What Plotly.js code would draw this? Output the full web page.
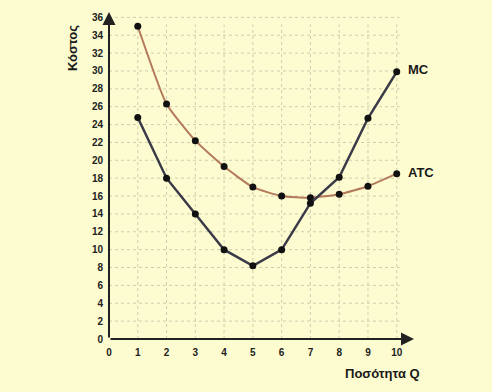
<!DOCTYPE html>
<html><head><meta charset="utf-8">
<script src="https://cdn.plot.ly/plotly-3.0.1.min.js"></script>
<style>html,body{margin:0;padding:0;background:#fdfcd0;}</style>
</head><body><div id="chart" style="width:492px;height:392px;"></div>
<script>
var quantity = [1,2,3,4,5,6,7,8,9,10];
var mc  = [24.8,18,14,10,8.2,10,15.2,18.1,24.7,29.9];
var atc = [35,26.3,22.2,19.3,17,16,15.8,16.2,17.1,18.5];
var xTicks = [0,1,2,3,4,5,6,7,8,9,10];
var yTicks = [0,2,4,6,8,10,12,14,16,18,20,22,24,26,28,30,32,34,36];
var yTitle = 'Κόστος';
var xTitle = 'Ποσότητα Q';

var fam = 'Liberation Sans, Arial, sans-serif';
var font = {family:fam, color:'#222', size:10, weight:'bold'};
var labelFont = {family:fam, size:13, color:'#1a1a1a', weight:'bold'};
var gridColor = '#cfcdb0';
var shapes = [];
xTicks.slice(1).forEach(function(v){
  shapes.push({type:'line', xref:'x', yref:'y', x0:v, x1:v, y0:0, y1:35.2, line:{color:gridColor, width:1, dash:'dot'}, layer:'below'});
});
yTicks.slice(1).forEach(function(v){
  shapes.push({type:'line', xref:'x', yref:'y', x0:0, x1:10.1, y0:v, y1:v, line:{color:gridColor, width:1, dash:'dot'}, layer:'below'});
});

var traces = [
  {x:quantity, y:atc, mode:'lines+markers', line:{color:'#b47a5c', width:2, shape:'spline', smoothing:0.5}, marker:{color:'#111', size:7}, hoverinfo:'none'},
  {x:quantity, y:mc, mode:'lines+markers', line:{color:'#3a3a48', width:2.5}, marker:{color:'#111', size:7}, hoverinfo:'none'}
];

var W = 492, H = 392, L = 109, R = 78, T = 12, B = 53;
function px(x){ return (x-L)/(W-L-R); }
function py(y){ return 1-(y-T)/(H-T-B); }

var layout = {
  width:W, height:H,
  margin:{l:L, r:R, t:T, b:B},
  paper_bgcolor:'#fdfcd0', plot_bgcolor:'#fdfcd0',
  showlegend:false,
  xaxis:{range:[0,10.6], tickvals:xTicks, ticktext:xTicks.map(String), showgrid:false, zeroline:false, showline:false, ticks:'', tickfont:font, ticklabelstandoff:6, fixedrange:true},
  yaxis:{range:[0,36.6], tickvals:yTicks, ticktext:yTicks.map(String), showgrid:false, zeroline:false, showline:false, ticks:'', tickfont:font, ticklabelstandoff:5, fixedrange:true},
  shapes:shapes,
  annotations:[
    {x:0, y:36.6, ax:0, ay:0, xref:'x', yref:'y', axref:'x', ayref:'y', showarrow:true, arrowhead:2, arrowsize:1.3, arrowwidth:2, arrowcolor:'#222', text:''},
    {x:10.6, y:0, ax:0, ay:0, xref:'x', yref:'y', axref:'x', ayref:'y', showarrow:true, arrowhead:2, arrowsize:1.3, arrowwidth:2, arrowcolor:'#222', text:''},
    {x:quantity[9], y:mc[9], xref:'x', yref:'y', text:'MC', showarrow:false, xanchor:'left', xshift:9, yshift:2, font:labelFont},
    {x:quantity[9], y:atc[9], xref:'x', yref:'y', text:'ATC', showarrow:false, xanchor:'left', xshift:9, yshift:1, font:labelFont},
    {x:px(72), y:py(48), xref:'paper', yref:'paper', xanchor:'center', yanchor:'middle', text:yTitle, showarrow:false, textangle:-90, font:labelFont},
    {x:px(382), y:py(373), xref:'paper', yref:'paper', xanchor:'center', yanchor:'middle', text:xTitle, showarrow:false, font:labelFont}
  ]
};
Plotly.newPlot('chart', traces, layout, {displayModeBar:false, staticPlot:true});
</script></body></html>
